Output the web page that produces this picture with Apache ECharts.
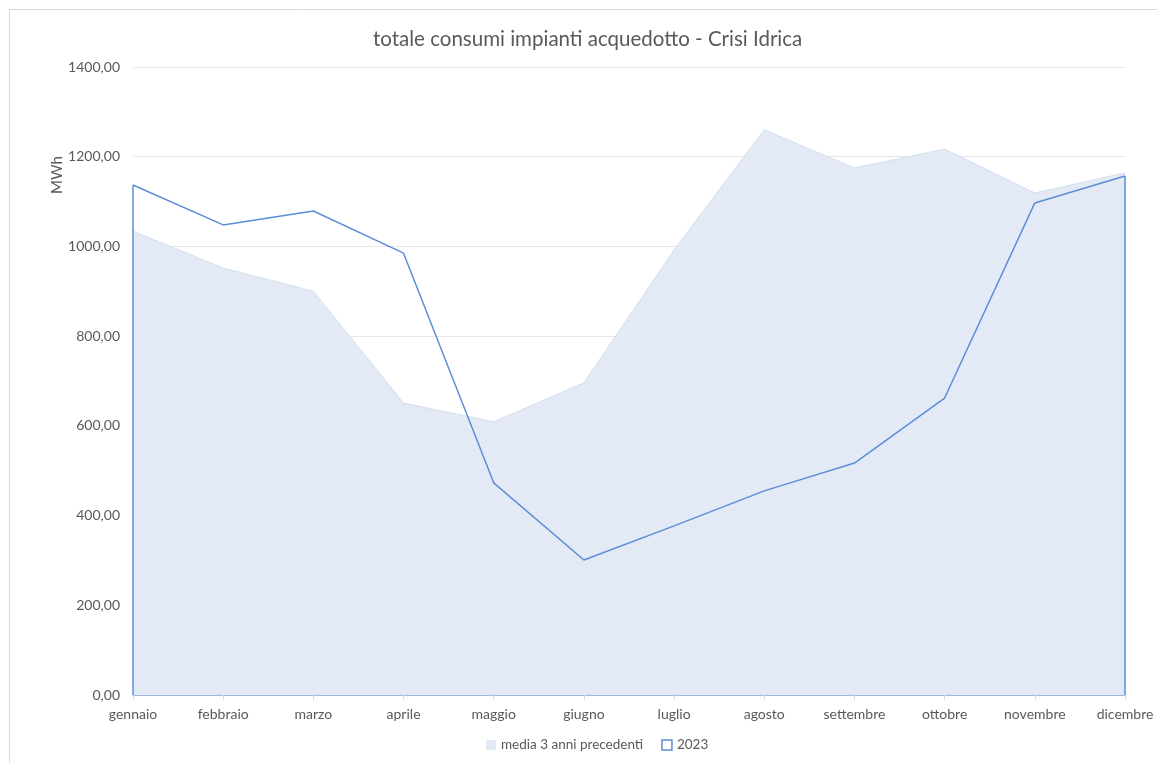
<!DOCTYPE html>
<html>
<head>
<meta charset="utf-8">
<script src="https://cdn.jsdelivr.net/npm/echarts@6/dist/echarts.min.js"></script>
<style>
  html, body { margin: 0; padding: 0; background: #fff; }
  #chart { width: 1157px; height: 763px; }
</style>
</head>
<body>
<div id="chart"></div>
<script>
// dati
const mesi = ['gennaio', 'febbraio', 'marzo', 'aprile', 'maggio', 'giugno',
  'luglio', 'agosto', 'settembre', 'ottobre', 'novembre', 'dicembre'];
const media3anni = [1034, 952, 900, 651, 609, 696, 992, 1260, 1175, 1217, 1119, 1164];
const anno2023 = [1137, 1048, 1079, 985, 473, 301, 377, 455, 517, 662, 1097, 1157];
const yTicks = { min: 0, max: 1400, interval: 200 };

const fontFam = 'Lato, "Open Sans", sans-serif';
const grigio = '#595959';
const blu = '#5b8ed6';

const chart = echarts.init(document.getElementById('chart'));

const option = {
  backgroundColor: '#fff',
  animation: false,
  title: {
    text: 'totale consumi impianti acquedotto - Crisi Idrica',
    left: 368,
    top: 24,
    textStyle: { fontFamily: fontFam, fontSize: 20.5, fontWeight: 'normal', color: grigio }
  },
  grid: { left: 133, right: 32, top: 67, bottom: 68 },
  legend: {
    bottom: 6,
    left: 481,
    itemWidth: 10,
    itemHeight: 10,
    itemGap: 18,
    textStyle: { fontFamily: fontFam, fontSize: 13.5, color: grigio },
    data: [
      { name: 'media 3 anni precedenti', icon: 'rect', itemStyle: { color: '#e4eaf5', borderWidth: 0 } },
      { name: '2023', icon: 'rect', itemStyle: { color: '#fff', borderColor: blu, borderWidth: 1.5 } }
    ]
  },
  xAxis: {
    type: 'category',
    data: mesi,
    boundaryGap: false,
    axisLine: { lineStyle: { color: '#9db8e3', width: 1 } },
    axisTick: { show: true, alignWithLabel: true, length: 5, lineStyle: { color: '#d9d9d9' } },
    axisLabel: { fontFamily: fontFam, fontSize: 14, color: grigio, margin: 12 }
  },
  yAxis: {
    type: 'value',
    min: yTicks.min,
    max: yTicks.max,
    interval: yTicks.interval,
    axisLine: { show: false },
    axisTick: { show: false },
    splitLine: { lineStyle: { color: '#e6e6e6' } },
    axisLabel: {
      fontFamily: fontFam, fontSize: 14, color: grigio, margin: 13,
      formatter: v => v.toFixed(2).replace('.', ',')
    }
  },
  graphic: [
    {
      type: 'rect',
      shape: { x: 9.5, y: 9.5, width: 1200, height: 800 },
      style: { fill: 'none', stroke: '#d9d9d9', lineWidth: 1 },
      silent: true
    },
    {
      type: 'text',
      x: 57, y: 175,
      rotation: Math.PI / 2,
      style: {
        text: 'MWh', fontFamily: fontFam, fontSize: 15, fill: grigio,
        textAlign: 'center', textVerticalAlign: 'middle'
      }
    }
  ],
  series: [
    {
      name: 'media 3 anni precedenti',
      type: 'line',
      data: media3anni,
      symbol: 'none',
      lineStyle: { color: '#d3dff0', width: 1 },
      itemStyle: { color: '#e4eaf5' },
      areaStyle: { color: '#e4eaf5', opacity: 1 },
      z: 1
    },
    {
      name: '2023',
      type: 'line',
      data: anno2023,
      symbol: 'none',
      lineStyle: { color: blu, width: 1.5 },
      itemStyle: { color: blu },
      z: 3,
      // bordi verticali dell'area senza riempimento (come in Excel)
      markLine: {
        silent: true,
        symbol: 'none',
        label: { show: false },
        lineStyle: { color: blu, width: 1.5, type: 'solid' },
        data: [
          [{ coord: [mesi[0], 0] }, { coord: [mesi[0], anno2023[0]] }],
          [{ coord: [mesi[11], 0] }, { coord: [mesi[11], anno2023[11]] }]
        ]
      }
    }
  ]
};

chart.setOption(option);
</script>
</body>
</html>
